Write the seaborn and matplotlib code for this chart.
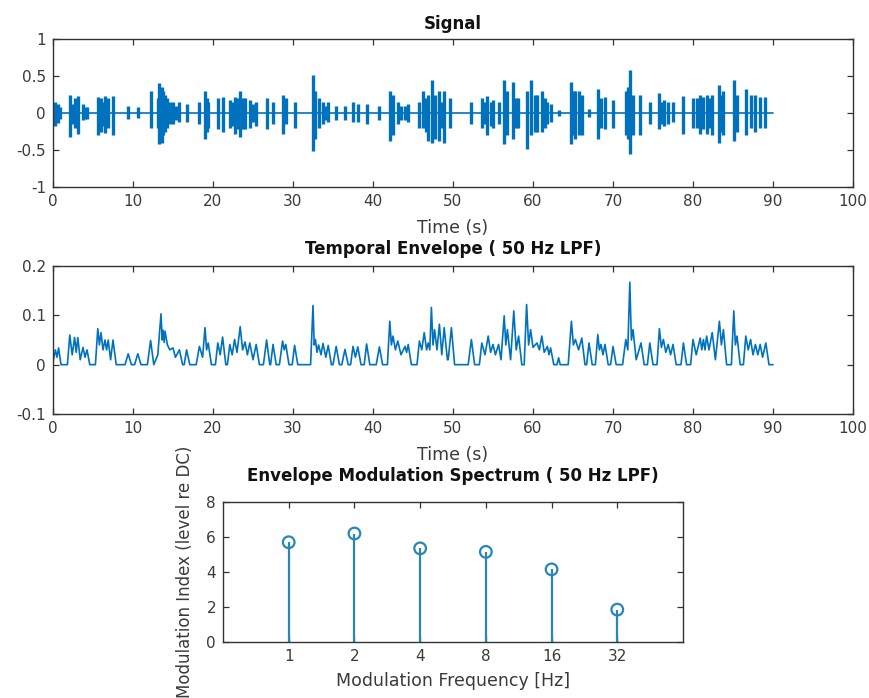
import matplotlib
matplotlib.use("Agg")
import matplotlib.pyplot as plt
import seaborn as sns
import pandas as pd

sns.set_style("white")
plt.rcParams['font.family'] = ['DejaVu Sans']

BLUE = "#0072BD"
STEM = "#2A86B2"

# ---------------- Signal (burst spikes) ----------------
sig_t = [0.3, 0.6, 0.9,
         2.1, 2.4, 2.7, 3.1, 3.7, 4.0, 4.3,
         5.6, 5.8, 6.0, 6.3, 6.5, 6.9, 7.5,
         9.4, 10.6,
         12.2, 13.1, 13.3, 13.6, 13.8, 14.0, 14.3, 14.6, 15.0, 15.4, 15.8, 16.7,
         18.3, 19.0, 19.2, 19.4,
         20.6, 21.2, 22.1, 22.4, 22.7, 23.1, 23.4, 23.7, 24.0, 24.6, 25.0, 25.4,
         26.7, 27.5, 28.7, 29.1, 30.2,
         32.5, 32.8, 33.2, 33.75, 34.1, 34.4, 35.4, 36.5, 37.5, 38.1, 39.2, 40.8,
         42.1, 42.3, 42.5, 43.1, 43.5, 44.0, 44.4,
         45.8, 46.2, 46.6, 46.9, 47.4, 47.8, 48.3, 48.6, 48.9, 49.6,
         52.3, 53.6, 54.0, 54.3, 54.7, 55.0, 55.7, 56.4, 56.8, 57.5, 57.9, 58.1,
         59.3, 59.8, 60.2, 60.5, 61.1, 61.5, 61.8, 62.2, 63.2,
         64.8, 65.1, 65.3, 65.8, 66.1, 67.0, 68.1, 68.5, 69.0, 70.0,
         71.6, 71.9, 72.1, 72.5, 73.4,
         74.6, 75.8, 76.1, 76.4, 76.9, 77.5,
         78.8, 80.0, 80.5, 80.9, 81.3, 81.7, 82.1, 82.4, 83.3, 83.6, 83.8,
         85.1, 85.5, 86.6, 87.2, 87.8, 88.4, 89.0]
sig_hi = [0.15, 0.12, 0.08,
          0.24, 0.12, 0.20, 0.23, 0.12, 0.08, 0.08,
          0.22, 0.15, 0.20, 0.15, 0.23, 0.20, 0.23,
          0.10, 0.08,
          0.30, 0.20, 0.40, 0.35, 0.30, 0.25, 0.20, 0.15, 0.15, 0.10, 0.15, 0.12,
          0.15, 0.30, 0.20, 0.15,
          0.20, 0.22, 0.18, 0.15, 0.22, 0.20, 0.30, 0.20, 0.20, 0.18, 0.12, 0.15,
          0.20, 0.15, 0.25, 0.20, 0.15,
          0.52, 0.30, 0.20, 0.15, 0.10, 0.15, 0.10, 0.10, 0.15, 0.12, 0.12, 0.10,
          0.30, 0.20, 0.25, 0.15, 0.10, 0.10, 0.12,
          0.15, 0.30, 0.20, 0.25, 0.45, 0.25, 0.30, 0.15, 0.30, 0.20,
          0.15, 0.20, 0.15, 0.23, 0.15, 0.18, 0.15, 0.45, 0.30, 0.42, 0.20, 0.20,
          0.30, 0.45, 0.25, 0.25, 0.30, 0.20, 0.15, 0.12, 0.04,
          0.42, 0.30, 0.30, 0.30, 0.25, 0.05, 0.32, 0.20, 0.22, 0.18,
          0.30, 0.35, 0.58, 0.25, 0.25,
          0.15, 0.27, 0.15, 0.18, 0.15, 0.15,
          0.23, 0.20, 0.20, 0.25, 0.22, 0.25, 0.20, 0.25, 0.38, 0.25, 0.30,
          0.45, 0.25, 0.33, 0.25, 0.25, 0.22, 0.22]
sig_lo = [-0.17, -0.13, -0.08,
          -0.33, -0.15, -0.20, -0.28, -0.10, -0.08, -0.08,
          -0.30, -0.20, -0.25, -0.18, -0.27, -0.20, -0.30,
          -0.08, -0.07,
          -0.20, -0.20, -0.42, -0.40, -0.30, -0.25, -0.20, -0.15, -0.15, -0.10, -0.12, -0.12,
          -0.15, -0.35, -0.25, -0.20,
          -0.22, -0.25, -0.20, -0.18, -0.28, -0.22, -0.32, -0.22, -0.22, -0.20, -0.12, -0.17,
          -0.22, -0.15, -0.28, -0.15, -0.20,
          -0.52, -0.35, -0.20, -0.15, -0.10, -0.12, -0.10, -0.10, -0.12, -0.12, -0.15, -0.10,
          -0.38, -0.25, -0.30, -0.15, -0.10, -0.10, -0.12,
          -0.20, -0.20, -0.25, -0.38, -0.40, -0.35, -0.38, -0.20, -0.40, -0.20,
          -0.15, -0.20, -0.15, -0.30, -0.18, -0.20, -0.15, -0.42, -0.30, -0.35, -0.20, -0.20,
          -0.48, -0.30, -0.25, -0.25, -0.25, -0.20, -0.15, -0.12, -0.04,
          -0.42, -0.30, -0.35, -0.30, -0.30, -0.05, -0.35, -0.20, -0.22, -0.20,
          -0.30, -0.35, -0.56, -0.30, -0.30,
          -0.15, -0.22, -0.15, -0.18, -0.15, -0.12,
          -0.28, -0.20, -0.20, -0.28, -0.22, -0.28, -0.20, -0.30, -0.40, -0.25, -0.30,
          -0.38, -0.25, -0.30, -0.20, -0.25, -0.20, -0.20]
sig_span = [0, 90]

# ---------------- Temporal envelope ----------------
env_t = [0.0, 0.3, 0.5, 0.7, 1.0,
         1.8, 2.1, 2.4, 2.7, 2.9, 3.1, 3.4, 3.75, 4.0, 4.25, 4.6,
         5.3, 5.6, 5.8, 6.0, 6.25, 6.5, 6.7, 6.9, 7.2, 7.5, 7.9,
         9.0, 9.4, 9.8, 10.2, 10.6, 11.0,
         11.8, 12.2, 12.6, 13.1, 13.5, 13.65, 13.75, 13.9, 14.0, 14.3, 14.6, 15.0, 15.3, 15.8, 16.2, 16.4, 16.7, 17.1,
         17.9, 18.3, 18.7, 19.0, 19.2, 19.4, 19.8,
         20.3, 20.6, 20.9, 21.2, 21.6, 21.8, 22.1, 22.4, 22.7, 23.0, 23.4, 23.7, 24.0, 24.3, 24.6, 25.0, 25.4, 25.8,
         26.3, 26.7, 27.1, 27.2, 27.5, 27.9,
         28.3, 28.7, 28.9, 29.1, 29.5,
         29.9, 30.2, 30.6,
         32.2, 32.5, 32.65, 32.8, 33.0, 33.2, 33.5, 33.75, 34.1, 34.4, 34.8,
         35.0, 35.4, 35.8, 36.1, 36.5, 36.9,
         37.2, 37.5, 37.8, 38.1, 38.5,
         38.9, 39.2, 39.6,
         40.4, 40.8, 41.2,
         41.8, 42.1, 42.3, 42.5, 42.8, 43.1, 43.5, 44.0, 44.2, 44.4, 44.8,
         45.5, 45.8, 46.1, 46.4, 46.7, 46.9, 47.1, 47.3, 47.5, 47.7, 48.0, 48.3, 48.6, 48.9, 49.3, 49.4, 49.8, 50.2,
         51.9, 52.3, 52.7,
         53.3, 53.6, 54.0, 54.4, 54.7, 55.0, 55.3, 55.7, 56.0, 56.4, 56.6, 56.8, 57.2, 57.6, 57.9, 58.2, 58.6,
         58.9, 59.2, 59.45, 59.7, 60.0, 60.5, 60.8, 61.1, 61.4, 61.8, 62.0, 62.2, 62.6,
         63.0, 63.2, 63.4,
         64.4, 64.8, 65.05, 65.3, 65.7, 66.1, 66.5, 66.7, 67.0, 67.4,
         67.8, 68.1, 68.3, 68.5, 68.75, 69.0, 69.4, 69.7, 70.0, 70.4,
         71.2, 71.6, 71.85, 72.1, 72.3, 72.5, 72.9, 73.5, 73.9,
         74.3, 74.6, 75.0,
         75.5, 75.8, 76.05, 76.3, 76.6, 76.9, 77.2, 77.5, 77.9,
         78.5, 78.8, 79.2,
         79.7, 80.0, 80.4, 80.9, 81.1, 81.3, 81.5, 81.7, 82.0, 82.4, 82.8, 83.3, 83.55, 83.8, 84.2,
         84.8, 85.1, 85.3, 85.5, 85.9,
         86.3, 86.6, 86.9, 87.2, 87.5, 87.8, 88.1, 88.4, 88.7, 89.1, 89.5, 90.0]
env_v = [0.005, 0.030, 0.015, 0.034, 0.0,
         0.0, 0.060, 0.020, 0.055, 0.025, 0.055, 0.010, 0.035, 0.015, 0.030, 0.0,
         0.0, 0.073, 0.040, 0.065, 0.030, 0.050, 0.030, 0.050, 0.010, 0.050, 0.0,
         0.0, 0.022, 0.0, 0.0, 0.022, 0.0,
         0.0, 0.049, 0.0, 0.020, 0.103, 0.050, 0.070, 0.045, 0.068, 0.040, 0.030, 0.034, 0.015, 0.030, 0.0, 0.0, 0.030, 0.0,
         0.0, 0.037, 0.015, 0.075, 0.030, 0.044, 0.0,
         0.0, 0.044, 0.020, 0.056, 0.0, 0.0, 0.041, 0.020, 0.051, 0.025, 0.077, 0.030, 0.046, 0.020, 0.044, 0.010, 0.041, 0.0,
         0.0, 0.050, 0.0, 0.0, 0.041, 0.0,
         0.0, 0.048, 0.030, 0.041, 0.0,
         0.0, 0.039, 0.0,
         0.0, 0.120, 0.040, 0.051, 0.025, 0.040, 0.020, 0.043, 0.015, 0.039, 0.0,
         0.0, 0.037, 0.0, 0.0, 0.031, 0.0,
         0.0, 0.037, 0.015, 0.036, 0.0,
         0.0, 0.042, 0.0,
         0.0, 0.036, 0.0,
         0.0, 0.088, 0.040, 0.058, 0.030, 0.048, 0.020, 0.037, 0.025, 0.041, 0.0,
         0.0, 0.048, 0.030, 0.065, 0.030, 0.044, 0.030, 0.116, 0.040, 0.071, 0.030, 0.082, 0.020, 0.075, 0.010, 0.010, 0.075, 0.0,
         0.0, 0.051, 0.0,
         0.0, 0.044, 0.020, 0.058, 0.025, 0.041, 0.020, 0.041, 0.010, 0.099, 0.040, 0.071, 0.010, 0.109, 0.030, 0.058, 0.0,
         0.0, 0.122, 0.040, 0.071, 0.035, 0.044, 0.030, 0.058, 0.025, 0.037, 0.020, 0.034, 0.0,
         0.0, 0.014, 0.0,
         0.0, 0.088, 0.040, 0.051, 0.030, 0.054, 0.0, 0.0, 0.044, 0.0,
         0.0, 0.061, 0.030, 0.041, 0.020, 0.041, 0.0, 0.0, 0.037, 0.0,
         0.0, 0.051, 0.030, 0.167, 0.050, 0.071, 0.010, 0.044, 0.0,
         0.0, 0.044, 0.0,
         0.0, 0.073, 0.035, 0.051, 0.025, 0.041, 0.020, 0.041, 0.0,
         0.0, 0.044, 0.0,
         0.0, 0.051, 0.020, 0.054, 0.030, 0.051, 0.030, 0.058, 0.030, 0.065, 0.010, 0.088, 0.040, 0.071, 0.0,
         0.0, 0.109, 0.040, 0.058, 0.0,
         0.0, 0.058, 0.030, 0.051, 0.020, 0.041, 0.020, 0.041, 0.015, 0.044, 0.0, 0.0]

# ---------------- Modulation spectrum ----------------
mod_freq_labels = ["1", "2", "4", "8", "16", "32"]
mod_index = [5.7, 6.2, 5.35, 5.15, 4.15, 1.85]

time_ticks = [0, 10, 20, 30, 40, 50, 60, 70, 80, 90, 100]
sig_yticks = [-1, -0.5, 0, 0.5, 1]
sig_yticklabels = ["-1", "-0.5", "0", "0.5", "1"]
env_yticks = [-0.1, 0, 0.1, 0.2]
env_yticklabels = ["-0.1", "0", "0.1", "0.2"]
mod_yticks = [0, 2, 4, 6, 8]

assert len(sig_t) == len(sig_hi) == len(sig_lo)
assert len(env_t) == len(env_v)

W, H = 870, 698
fig = plt.figure(figsize=(W / 100, H / 100), dpi=100)

def fpos(x0, y0, x1, y1):
    return [x0 / W, 1 - y1 / H, (x1 - x0) / W, (y1 - y0) / H]

ax1 = fig.add_axes(fpos(53, 39, 853, 187))
ax2 = fig.add_axes(fpos(53, 266, 853, 414))
ax3 = fig.add_axes(fpos(223, 502, 683, 642))

TXT = "#3a3a3a"
TICK_FS = 11
LAB_FS = 12.5
TITLE_FS = 12

def style(ax):
    for s in ax.spines.values():
        s.set_color("#333333")
        s.set_linewidth(1.0)
        s.set_visible(True)
    ax.tick_params(direction="in", length=4, width=0.9, color="#333333",
                   top=True, right=True, bottom=True, left=True,
                   labelsize=TICK_FS, labelcolor=TXT, pad=5)

# Signal
sig_df = pd.DataFrame({"t": sig_span, "v": [0, 0]})
sns.lineplot(data=sig_df, x="t", y="v", ax=ax1, color=BLUE, linewidth=1.2)
ax1.vlines(sig_t, sig_lo, sig_hi, color=BLUE, linewidth=2.4)
ax1.set_xlim(0, 100)
ax1.set_ylim(-1, 1)
ax1.set_xticks(time_ticks)
ax1.set_xticklabels([str(v) for v in time_ticks])
ax1.set_yticks(sig_yticks)
ax1.set_yticklabels(sig_yticklabels)
ax1.set_xlabel("Time (s)", fontsize=LAB_FS, color=TXT, labelpad=7)
ax1.set_ylabel("")
ax1.set_title("Signal", fontsize=TITLE_FS, fontweight="bold", color="#111111", pad=7)
style(ax1)

# Envelope
env_df = pd.DataFrame({"t": env_t, "v": env_v})
sns.lineplot(data=env_df, x="t", y="v", ax=ax2, color=BLUE, linewidth=1.2)
ax2.set_xlim(0, 100)
ax2.set_ylim(-0.1, 0.2)
ax2.set_xticks(time_ticks)
ax2.set_xticklabels([str(v) for v in time_ticks])
ax2.set_yticks(env_yticks)
ax2.set_yticklabels(env_yticklabels)
ax2.set_xlabel("Time (s)", fontsize=LAB_FS, color=TXT, labelpad=7)
ax2.set_ylabel("")
ax2.set_title("Temporal Envelope ( 50 Hz LPF)", fontsize=TITLE_FS, fontweight="bold",
              color="#111111", pad=9)
style(ax2)

# Modulation spectrum (stem)
pos = list(range(1, len(mod_index) + 1))
mod_df = pd.DataFrame({"pos": pos, "val": mod_index})
ax3.vlines(mod_df["pos"], 0, mod_df["val"], color=STEM, linewidth=1.6)
sns.scatterplot(data=mod_df, x="pos", y="val", ax=ax3, s=70, marker="o",
                facecolor="none", edgecolor=STEM, linewidth=1.6, zorder=3)
ax3.set_xlim(0, 7)
ax3.set_ylim(0, 8)
ax3.set_xticks(pos)
ax3.set_xticklabels(mod_freq_labels)
ax3.set_yticks(mod_yticks)
ax3.set_yticklabels([str(v) for v in mod_yticks])
ax3.set_xlabel("Modulation Frequency [Hz]", fontsize=LAB_FS, color=TXT, labelpad=6)
ax3.set_ylabel("Modulation Index (level re DC)", fontsize=12, color=TXT, labelpad=9)
ax3.set_title("Envelope Modulation Spectrum ( 50 Hz LPF)", fontsize=TITLE_FS,
              fontweight="bold", color="#111111", pad=15)
style(ax3)

fig.savefig("out.png", dpi=100, facecolor="white")
